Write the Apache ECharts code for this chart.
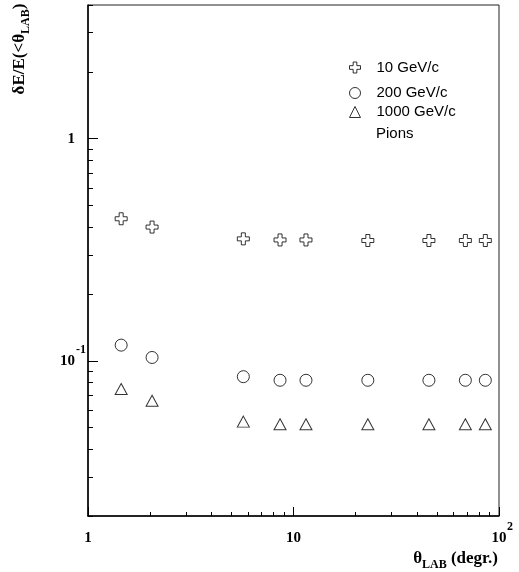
<!DOCTYPE html>
<html>
<head>
<meta charset="utf-8">
<script src="https://cdn.jsdelivr.net/npm/echarts@6/dist/echarts.min.js"></script>
<style>
html,body{margin:0;padding:0;background:#fff;}
#chart{width:519px;height:572px;}
</style>
</head>
<body>
<div id="chart"></div>
<script>
// Data
const angles = [1.45, 2.05, 5.7, 8.6, 11.5, 23, 45.6, 68.6, 85.8];
const res10 = [0.436, 0.400, 0.354, 0.350, 0.350, 0.348, 0.348, 0.348, 0.348];
const res200 = [0.1176, 0.1035, 0.0848, 0.0817, 0.0817, 0.0817, 0.0817, 0.0817, 0.0817];
const res1000 = [0.0746, 0.0661, 0.0532, 0.0518, 0.0518, 0.0518, 0.0518, 0.0518, 0.0518];
const seriesNames = ['10 GeV/c', '200 GeV/c', '1000 GeV/c'];
const xMajorTicks = [1, 10, 100];
const xMinorTicks = [2,3,4,5,6,7,8,9,20,30,40,50,60,70,80,90];
const yMajorTicks = [0.1, 1];
const yMinorTicks = [0.02,0.03,0.04,0.05,0.06,0.07,0.08,0.09,0.2,0.3,0.4,0.5,0.6,0.7,0.8,0.9,2,3,4];

const serif = '"Liberation Serif","Times New Roman",serif';
const sans = '"Liberation Sans",Arial,Helvetica,sans-serif';
const crossPath = 'path://M4,0L8,0L8,4L12,4L12,8L8,8L8,12L4,12L4,8L0,8L0,4L4,4Z';

function pairs(ys){ return angles.map((a,i)=>[a, ys[i]]); }

const labelRich = {
  b: {fontFamily: serif, fontWeight: 'bold', fontSize: 15, color: '#000', lineHeight: 34, verticalAlign: 'middle'},
  s: {fontFamily: serif, fontWeight: 'bold', fontSize: 12, color: '#000', lineHeight: 12, verticalAlign: 'top'},
  e: {fontFamily: serif, fontSize: 12, color: '#000', lineHeight: 12, verticalAlign: 'top'}
};
function xLabel(v){
  const p = Math.round(Math.log10(v));
  if (p === 0) return '{b|1}';
  if (p === 1) return '{b|10}';
  return '{e2| }{b|10}{s2|' + p + '}';
}
function yLabel(v){
  const p = Math.round(Math.log10(v));
  if (p === 0) return '{b|1}{e1| }';
  return '{b|10}{s1|' + p + '}';
}
const xRich = Object.assign({}, labelRich, {
  s2: Object.assign({}, labelRich.s, {width: 7}),
  e2: Object.assign({}, labelRich.e, {width: 7})
});
const yRich = Object.assign({}, labelRich, {
  s1: Object.assign({}, labelRich.s, {width: 11}),
  e1: Object.assign({}, labelRich.e, {width: 11})
});

const hollow = {color: '#fff', borderColor: '#000', borderWidth: 1};

function legendAt(name, top, lift){
  return {
    data: [name], left: 349, top: top, padding: 0, orient: 'vertical',
    itemWidth: 11, itemHeight: 11, selectedMode: false,
    itemStyle: {color: '#fff', borderColor: '#000', borderWidth: 1},
    textStyle: {fontFamily: sans, fontSize: 15, color: '#000', padding: [0, 0, lift, 11]}
  };
}

const titleRich = {
  a: {fontFamily: serif, fontWeight: 'bold', fontSize: 17, color: '#000', lineHeight: 24, verticalAlign: 'middle'},
  sub: {fontFamily: serif, fontWeight: 'bold', fontSize: 12, color: '#000', lineHeight: 10, verticalAlign: 'bottom'}
};

const option = {
  animation: false,
  backgroundColor: '#fff',
  grid: {left: 88, right: 20, top: 5, bottom: 56, show: true, borderColor: '#222', borderWidth: 1, backgroundColor: 'transparent'},
  legend: [legendAt(seriesNames[0], 60, 2), legendAt(seriesNames[1], 85.5, 0), legendAt(seriesNames[2], 104.5, 5)],
  xAxis: [
    {
      type: 'log', min: 1, max: 100, position: 'bottom',
      axisLine: {show: true, lineStyle: {color: '#000', width: 1.5}},
      axisTick: {show: true, inside: true, length: 9, customValues: xMajorTicks, lineStyle: {color: '#000'}},
      axisLabel: {show: true, customValues: xMajorTicks, formatter: xLabel, rich: xRich, margin: 5, color: '#000'},
      splitLine: {show: false}
    },
    {
      type: 'log', min: 1, max: 100, position: 'bottom',
      axisLine: {show: false},
      axisTick: {show: true, inside: true, length: 4, customValues: xMinorTicks, lineStyle: {color: '#000'}},
      axisLabel: {show: false},
      splitLine: {show: false}
    }
  ],
  yAxis: [
    {
      type: 'log', min: 0.02, max: 4, position: 'left',
      axisLine: {show: true, lineStyle: {color: '#000', width: 1.5}},
      axisTick: {show: true, inside: true, length: 10, customValues: yMajorTicks, lineStyle: {color: '#000'}},
      axisLabel: {show: true, customValues: yMajorTicks, formatter: yLabel, rich: yRich, margin: 2, color: '#000'},
      splitLine: {show: false}
    },
    {
      type: 'log', min: 0.02, max: 4, position: 'left',
      axisLine: {show: false},
      axisTick: {show: true, inside: true, length: 5, customValues: yMinorTicks, lineStyle: {color: '#000'}},
      axisLabel: {show: false},
      splitLine: {show: false}
    }
  ],
  series: [
    {name: seriesNames[0], type: 'scatter', xAxisIndex: 0, yAxisIndex: 0, symbol: crossPath, symbolSize: 12, itemStyle: hollow, data: pairs(res10)},
    {name: seriesNames[1], type: 'scatter', xAxisIndex: 0, yAxisIndex: 0, symbol: 'circle', symbolSize: 12, itemStyle: hollow, data: pairs(res200)},
    {name: seriesNames[2], type: 'scatter', xAxisIndex: 0, yAxisIndex: 0, symbol: 'triangle', symbolSize: [12, 11], itemStyle: hollow, data: pairs(res1000)}
  ],
  graphic: [
    {type: 'text', x: 376, y: 133.5, style: {text: 'Pions', fontFamily: sans, fontSize: 15, fill: '#000', align: 'left', verticalAlign: 'middle'}},
    {type: 'text', x: 498, y: 558.5, style: {text: '{a|θ}{sub|LAB}{a| (degr.)}', rich: titleRich, align: 'right', verticalAlign: 'middle'}},
    {type: 'text', x: 20, y: 49, rotation: Math.PI / 2, style: {text: '{a|δE/E(<θ}{sub|LAB}{a|)}', rich: titleRich, align: 'center', verticalAlign: 'middle'}}
  ]
};

const chart = echarts.init(document.getElementById('chart'), null, {renderer: 'canvas'});
chart.setOption(option);
</script>
</body>
</html>
